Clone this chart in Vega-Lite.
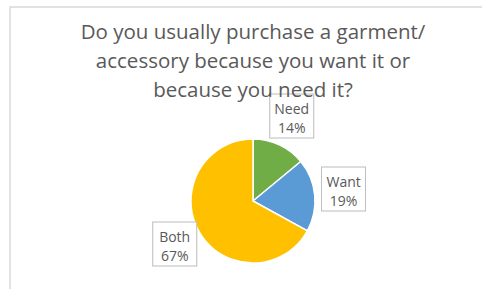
{
  "$schema": "https://vega.github.io/schema/vega-lite/v6.json",
  "autosize": "none",
  "width": 486,
  "height": 388,
  "padding": {"left": 10, "top": 7, "right": 0, "bottom": 0},
  "background": "white",
  "view": {"stroke": "#d9d9d9", "strokeWidth": 1.5},
  "title": {
    "text": ["Do you usually purchase a garment/", "accessory because you want it or", "because you need it?"],
    "anchor": "middle",
    "orient": "top",
    "offset": -110,
    "baseline": "alphabetic",
    "font": "Open Sans",
    "fontSize": 20.5,
    "fontWeight": "normal",
    "color": "#595959",
    "lineHeight": 29
  },
  "data": {
    "values": [
      {"category": "Need", "value": 0.14},
      {"category": "Want", "value": 0.19},
      {"category": "Both", "value": 0.67}
    ]
  },
  "encoding": {
    "theta": {"field": "value", "type": "quantitative", "stack": true},
    "order": {"field": "value", "sort": "ascending"}
  },
  "layer": [
    {
      "mark": {"type": "arc", "outerRadius": 62, "stroke": "white", "strokeWidth": 1.5},
      "encoding": {
        "color": {
          "field": "category",
          "type": "nominal",
          "scale": {"domain": ["Need", "Want", "Both"], "range": ["#70AD47", "#5B9BD5", "#FFC000"]},
          "legend": null
        }
      }
    },
    {
      "mark": {"type": "text", "radius": 91, "text": "■", "font": "Noto Sans CJK SC", "fontSize": 55, "fill": "white", "stroke": "#bfbfbf", "strokeWidth": 1, "baseline": "middle", "align": "center"}
    },
    {
      "mark": {"type": "text", "radius": 91, "dy": -9, "font": "Open Sans", "fontSize": 14, "fill": "#595959", "baseline": "middle", "align": "center"},
      "encoding": {"text": {"field": "category", "type": "nominal"}}
    },
    {
      "mark": {"type": "text", "radius": 91, "dy": 10, "font": "Open Sans", "fontSize": 14, "fill": "#595959", "baseline": "middle", "align": "center"},
      "encoding": {"text": {"field": "value", "type": "quantitative", "format": ".0%"}}
    }
  ]
}
